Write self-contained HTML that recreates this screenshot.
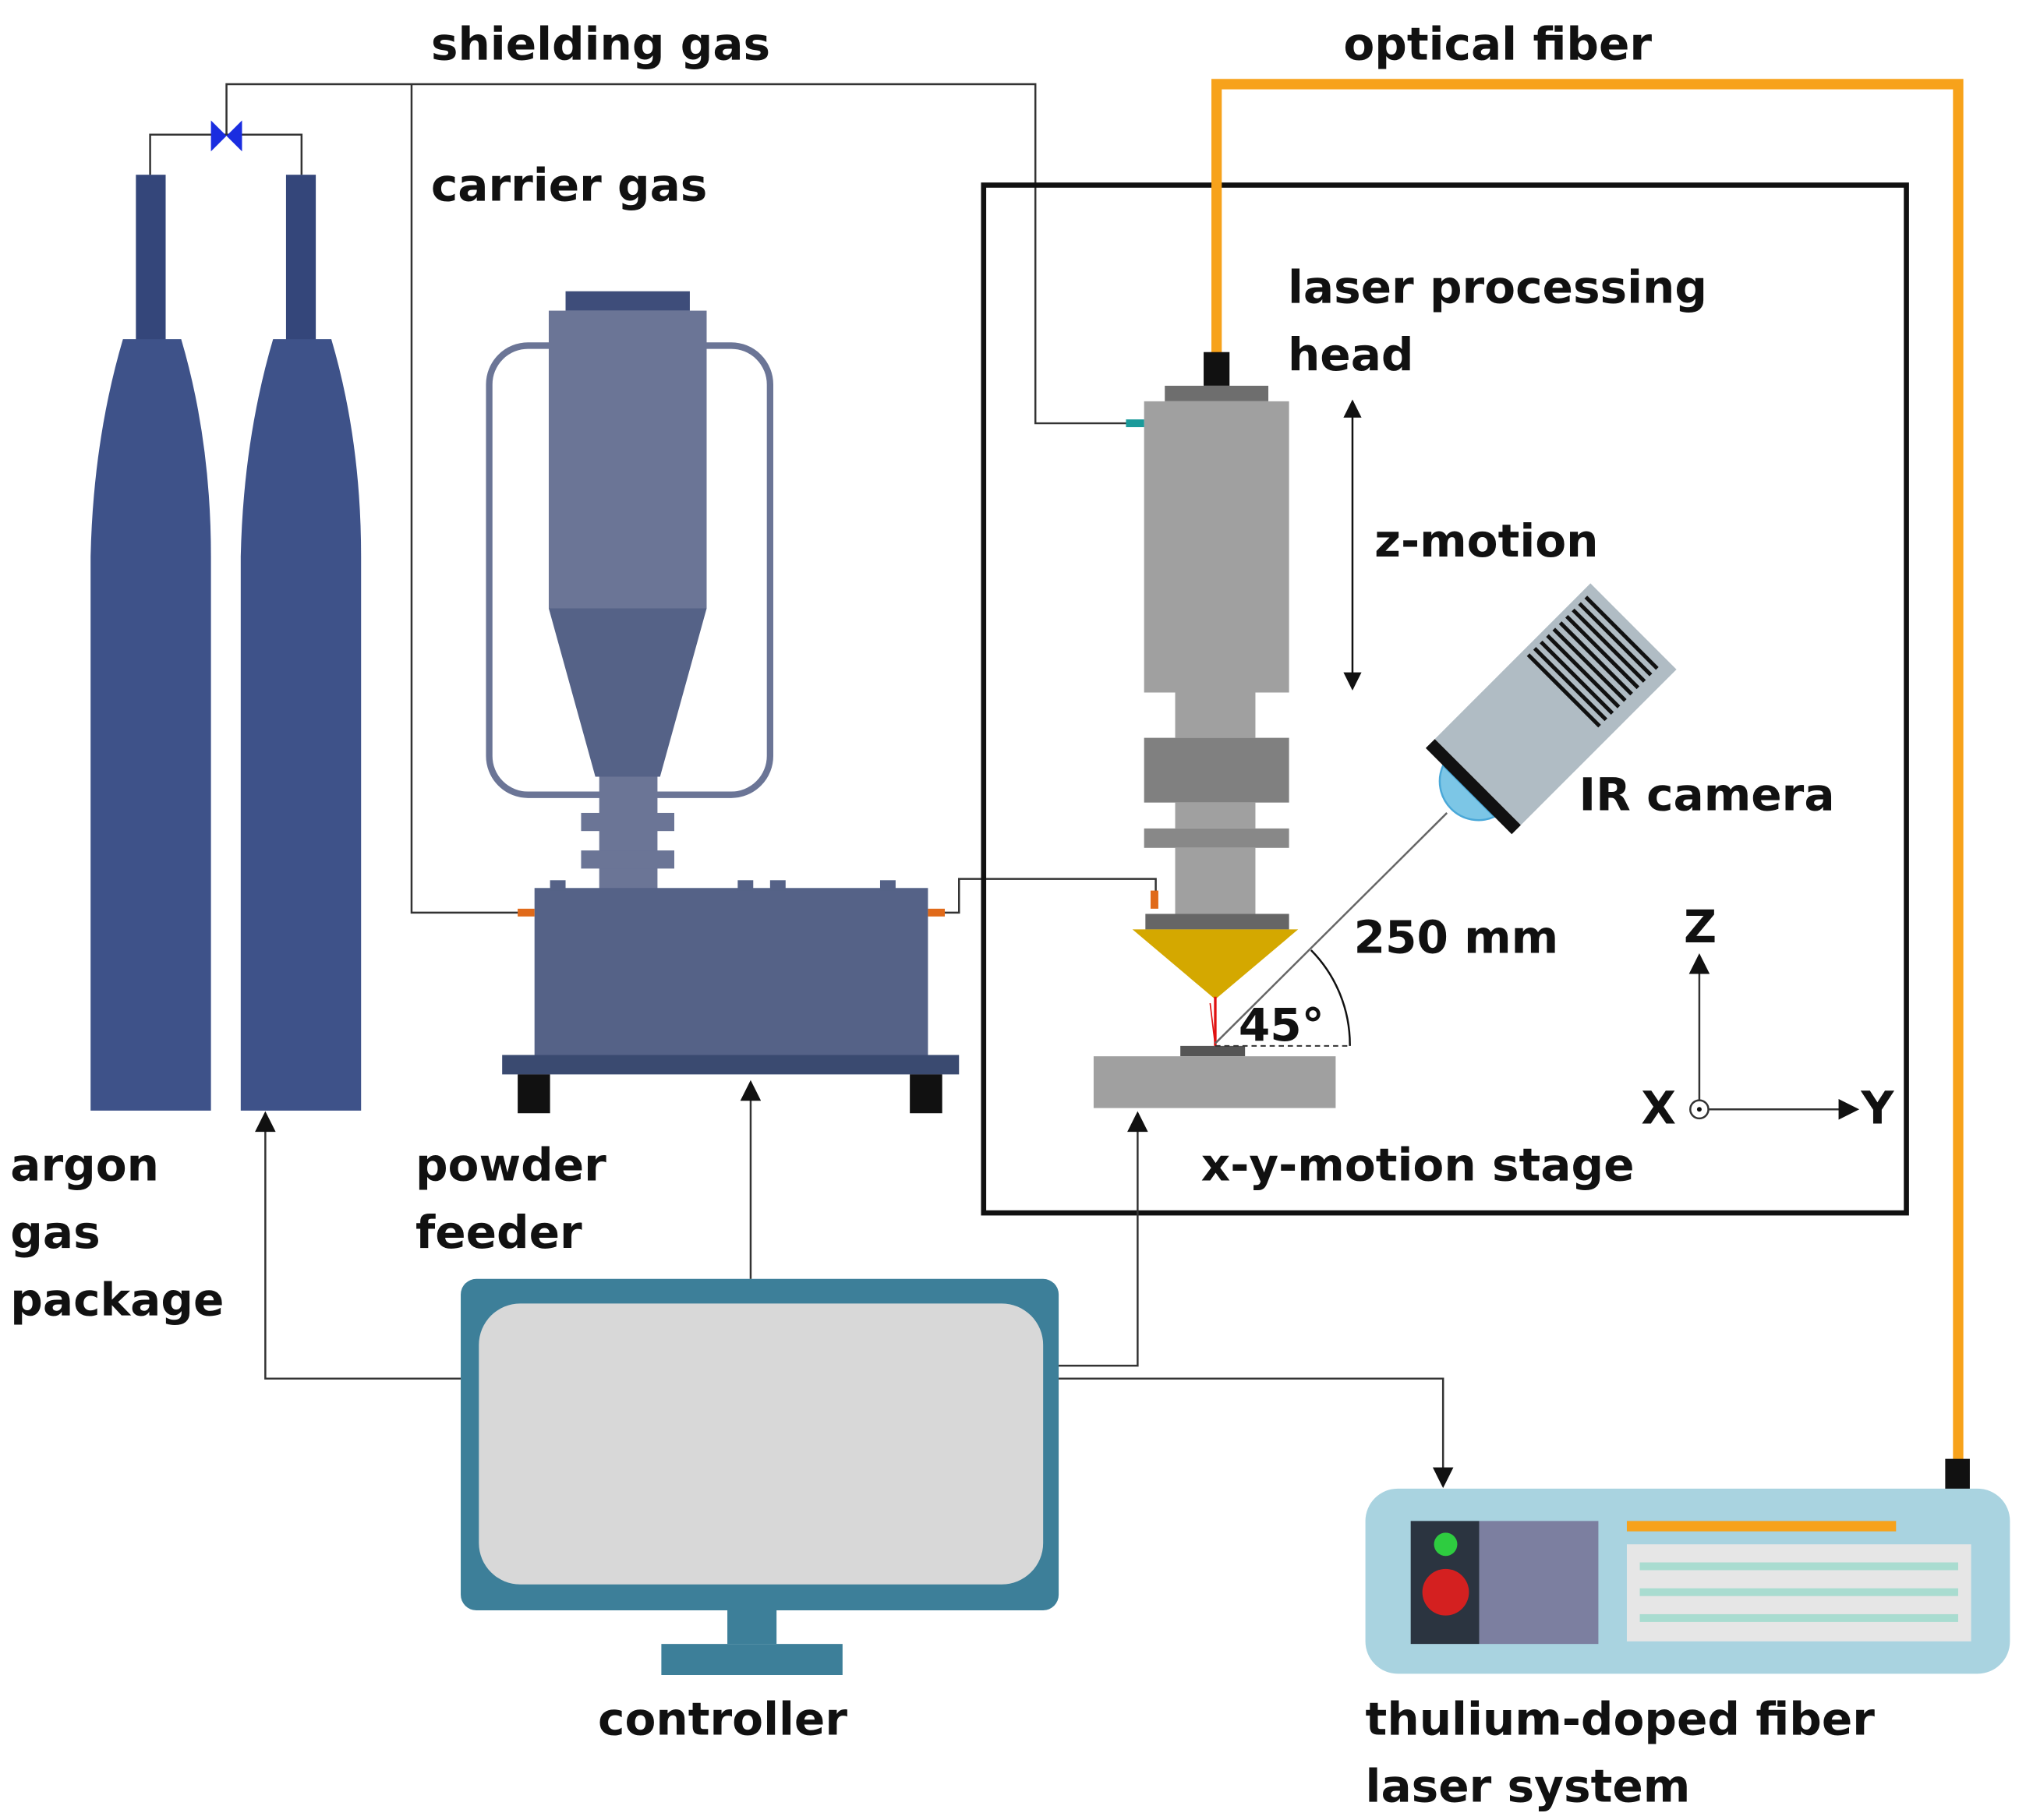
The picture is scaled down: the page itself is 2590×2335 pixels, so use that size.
<!DOCTYPE html>
<html><head><meta charset="utf-8"><style>
html,body{margin:0;padding:0;background:#fff;}
svg{display:block;}
text{font-family:"DejaVu Sans","Liberation Sans",sans-serif;font-weight:bold;font-size:35px;fill:#111;}
</style></head><body>
<svg width="2590" height="2335" viewBox="0 0 1560 1406" preserveAspectRatio="none" xmlns="http://www.w3.org/2000/svg">
<defs>
<marker id="ah" viewBox="0 0 10 10" refX="9" refY="5" markerWidth="20" markerHeight="14" orient="auto-start-reverse" markerUnits="userSpaceOnUse">
<path d="M0,0 L10,5 L0,10 z" fill="#111"/></marker>
<marker id="ah2" viewBox="0 0 10 10" refX="9" refY="5" markerWidth="22" markerHeight="16" orient="auto-start-reverse" markerUnits="userSpaceOnUse">
<path d="M0,0 L10,5 L0,10 z" fill="#111"/></marker>
</defs>
<rect width="1560" height="1406" fill="#fff"/>

<g fill="none" stroke="#333" stroke-width="1.5">
<polyline points="175,104 175,65 800,65 800,327 872,327"/>
<polyline points="318,65 318,705 405,705"/>
<polyline points="116,135 116,104 233,104 233,135"/>
<polyline points="728,705 741,705 741,679 893,679 893,690"/>
</g>
<path d="M163,93 L163,117 L175,105 Z M187,93 L187,117 L175,105 Z" fill="#1a2de0"/>

<rect x="105" y="135" width="23" height="128" fill="#34467a"/>
<rect x="221" y="135" width="23" height="128" fill="#34467a"/>
<path d="M95,262 L140,262 Q163,340 163,430 L163,858 L70,858 L70,430 Q72,340 95,262 Z" fill="#3e5289"/>
<path d="M211,262 L256,262 Q279,340 279,430 L279,858 L186,858 L186,430 Q188,340 211,262 Z" fill="#3e5289"/>

<rect x="378" y="267" width="217" height="347" rx="30" fill="none" stroke="#6b7596" stroke-width="5"/>
<rect x="437" y="225" width="96" height="15" fill="#3e4d7a"/>
<rect x="424" y="240" width="122" height="230" fill="#6b7596"/>
<path d="M424,470 L546,470 L510,600 L460,600 Z" fill="#556287"/>
<rect x="463" y="600" width="45" height="90" fill="#6b7596"/>
<rect x="449" y="628" width="72" height="14" fill="#6b7596"/>
<rect x="449" y="657" width="72" height="14" fill="#6b7596"/>
<rect x="413" y="686" width="304" height="129" fill="#556287"/>
<rect x="425" y="680" width="12" height="8" fill="#556287"/>
<rect x="570" y="680" width="12" height="8" fill="#556287"/>
<rect x="595" y="680" width="12" height="8" fill="#556287"/>
<rect x="680" y="680" width="12" height="8" fill="#556287"/>
<rect x="400" y="702" width="13" height="6" fill="#e06a1a"/>
<rect x="717" y="702" width="13" height="6" fill="#e06a1a"/>
<rect x="388" y="815" width="353" height="15" fill="#3a4a70"/>
<rect x="400" y="830" width="25" height="30" fill="#111"/>
<rect x="703" y="830" width="25" height="30" fill="#111"/>

<rect x="760" y="143" width="713" height="794" fill="none" stroke="#111" stroke-width="4"/>

<polyline points="940,275 940,65 1513,65 1513,1128" fill="none" stroke="#f7a21b" stroke-width="8"/>
<rect x="1503" y="1127" width="19" height="24" fill="#111"/>

<rect x="930" y="272" width="20" height="26" fill="#111"/>
<rect x="900" y="298" width="80" height="12" fill="#6e6e6e"/>
<rect x="884" y="310" width="112" height="225" fill="#a0a0a0"/>
<rect x="870" y="324" width="14" height="6" fill="#1a9a9a"/>
<rect x="908" y="535" width="62" height="35" fill="#a0a0a0"/>
<rect x="884" y="570" width="112" height="50" fill="#808080"/>
<rect x="908" y="620" width="62" height="20" fill="#a0a0a0"/>
<rect x="884" y="640" width="112" height="15" fill="#888"/>
<rect x="908" y="655" width="62" height="51" fill="#a0a0a0"/>
<rect x="885" y="706" width="111" height="12" fill="#666"/>
<rect x="889" y="688" width="6" height="14" fill="#e06a1a"/>
<path d="M875,718 L1003,718 L939,772 Z" fill="#d4a800"/>
<line x1="939" y1="770" x2="939" y2="808" stroke="#e01010" stroke-width="2"/>
<line x1="935" y1="775" x2="939" y2="808" stroke="#e01010" stroke-width="1"/>
<rect x="912" y="808" width="50" height="8" fill="#555"/>
<rect x="845" y="816" width="187" height="40" fill="#a0a0a0"/>

<line x1="1045" y1="310" x2="1045" y2="532" stroke="#111" stroke-width="1.5" marker-start="url(#ah)" marker-end="url(#ah)"/>

<line x1="939" y1="806" x2="1118" y2="628" stroke="#666" stroke-width="1.5"/>
<line x1="939" y1="808" x2="1043" y2="808" stroke="#333" stroke-width="1.2" stroke-dasharray="4,3"/>
<path d="M1013,734 A104,104 0 0 1 1043,808" fill="none" stroke="#111" stroke-width="1.5"/>

<g transform="translate(1202,544) rotate(-45)">
<path d="M-95,-28 A30,30 0 0 0 -95,28 Z" fill="#7cc6e6" stroke="#4aa8d8" stroke-width="1.5"/>
<rect x="-95" y="-47" width="10" height="94" fill="#111"/>
<rect x="-85" y="-47" width="170" height="94" fill="#b0bcc4"/>
<g stroke="#111" stroke-width="3">
<line x1="12" y1="-42" x2="12" y2="36"/><line x1="19" y1="-42" x2="19" y2="36"/>
<line x1="26" y1="-42" x2="26" y2="36"/><line x1="33" y1="-42" x2="33" y2="36"/>
<line x1="40" y1="-42" x2="40" y2="36"/><line x1="47" y1="-42" x2="47" y2="36"/>
<line x1="54" y1="-42" x2="54" y2="36"/><line x1="61" y1="-42" x2="61" y2="36"/>
<line x1="68" y1="-42" x2="68" y2="36"/><line x1="75" y1="-42" x2="75" y2="36"/>
</g>
</g>

<line x1="1313" y1="852" x2="1313" y2="738" stroke="#333" stroke-width="1.5" marker-end="url(#ah2)"/>
<line x1="1319" y1="857" x2="1435" y2="857" stroke="#333" stroke-width="1.5" marker-end="url(#ah2)"/>
<circle cx="1313" cy="857" r="7" fill="#fff" stroke="#333" stroke-width="1.5"/>
<circle cx="1313" cy="857" r="1.8" fill="#111"/>

<rect x="356" y="988" width="462" height="256" rx="12" fill="#3d7f99"/>
<rect x="370" y="1007" width="436" height="217" rx="32" fill="#d8d8d8"/>
<rect x="562" y="1244" width="38" height="26" fill="#3d7f99"/>
<rect x="511" y="1270" width="140" height="24" fill="#3d7f99"/>

<g fill="none" stroke="#333" stroke-width="1.5">
<polyline points="356,1065 205,1065 205,860" marker-end="url(#ah2)"/>
<polyline points="580,988 580,836" marker-end="url(#ah2)"/>
<polyline points="818,1055 879,1055 879,860" marker-end="url(#ah2)"/>
<polyline points="818,1065 1115,1065 1115,1148" marker-end="url(#ah2)"/>
</g>

<rect x="1055" y="1150" width="498" height="143" rx="25" fill="#a9d3e0"/>
<rect x="1090" y="1175" width="53" height="95" fill="#2b3440"/>
<rect x="1143" y="1175" width="92" height="95" fill="#7c7fa0"/>
<circle cx="1117" cy="1193" r="9" fill="#2ecc40"/>
<circle cx="1117" cy="1230" r="18" fill="#d42020"/>
<rect x="1257" y="1175" width="208" height="8" fill="#f7a21b"/>
<rect x="1257" y="1193" width="266" height="75" fill="#e6e6e6"/>
<rect x="1267" y="1207" width="246" height="6" fill="#a9dcd0"/>
<rect x="1267" y="1227" width="246" height="6" fill="#a9dcd0"/>
<rect x="1267" y="1247" width="246" height="6" fill="#a9dcd0"/>

<text x="333" y="46">shielding gas</text>
<text x="1038" y="46">optical fiber</text>
<text x="333" y="155">carrier gas</text>
<text x="995" y="234">laser processing</text>
<text x="995" y="286">head</text>
<text x="1062" y="430">z-motion</text>
<text x="1220" y="626">IR camera</text>
<text x="1046" y="736">250 mm</text>
<text x="957" y="804">45°</text>
<text x="1301" y="728">Z</text>
<text x="1268" y="868">X</text>
<text x="1438" y="868">Y</text>
<text x="928" y="912">x-y-motion stage</text>
<text x="8" y="912">argon</text>
<text x="8" y="964">gas</text>
<text x="8" y="1016">package</text>
<text x="321" y="912">powder</text>
<text x="321" y="964">feeder</text>
<text x="462" y="1340">controller</text>
<text x="1055" y="1340">thulium-doped fiber</text>
<text x="1055" y="1392">laser system</text>
</svg>
</body></html>
